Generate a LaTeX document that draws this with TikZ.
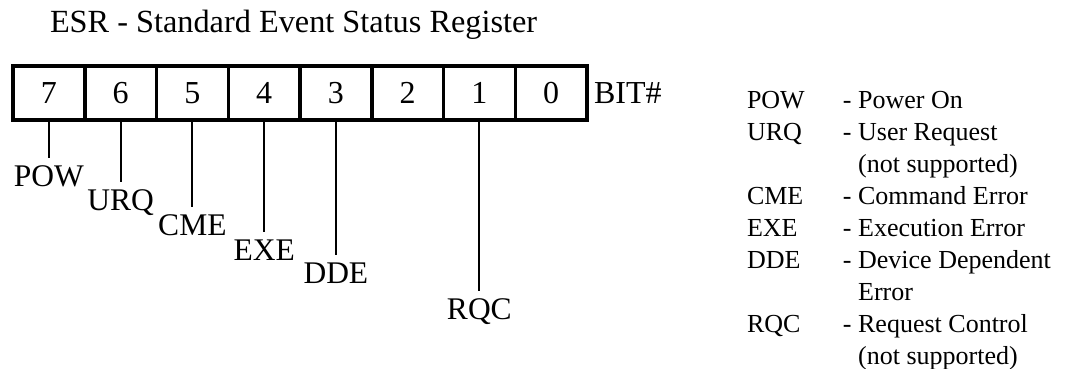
\documentclass[tikz,border=0pt]{standalone}
\usepackage{fontspec}
\setmainfont{Liberation Serif}
\usetikzlibrary{positioning}

\begin{document}
\begin{tikzpicture}[x=1pt,y=-1pt,node distance=0pt,inner sep=0pt,outer sep=0pt,
  bit/.style={draw,line width=3.5pt,minimum width=71.75pt,minimum height=54pt,font=\fontsize{32}{38}\selectfont},
  tag/.style={inner sep=8pt,font=\fontsize{31.5}{38}\selectfont},
  lead/.style={line width=2.2pt}]
\useasboundingbox (0,0) rectangle (1069,369);
\node[anchor=base west,font=\fontsize{32.3}{38}\selectfont] (title) at (50,33) {ESR - Standard Event Status Register};

\node[bit] (b7) at (48.875,93) {7};
\node[bit] (b6) [right=of b7] {6};
\node[bit] (b5) [right=of b6] {5};
\node[bit] (b4) [right=of b5] {4};
\node[bit] (b3) [right=of b4] {3};
\node[bit] (b2) [right=of b3] {2};
\node[bit] (b1) [right=of b2] {1};
\node[bit] (b0) [right=of b1] {0};
\node[font=\fontsize{32}{38}\selectfont] (bitno) [right=7pt of b0] {BIT\#};

\node[tag] (pow) [below=38pt of b7.south] {POW};
\node[tag] (urq) [below=62pt of b6.south] {URQ};
\node[tag] (cme) [below=87pt of b5.south] {CME};
\node[tag] (exe) [below=112pt of b4.south] {EXE};
\node[tag] (dde) [below=135pt of b3.south] {DDE};
\node[tag] (rqc) [below=171pt of b1.south] {RQC};

\path (b7.south) edge[lead] (pow.north);
\path (b6.south) edge[lead] (urq.north);
\path (b5.south) edge[lead] (cme.north);
\path (b4.south) edge[lead] (exe.north);
\path (b3.south) edge[lead] (dde.north);
\path (b1.south) edge[lead] (rqc.north);

% legend
\node[anchor=base west,font=\fontsize{26}{32}\selectfont] (legend) at (747,109) {%
\begin{tabular}[t]{@{}p{96pt}@{}l@{}}
POW & - Power On\\
URQ & - User Request\\
    & \phantom{- }(not supported)\\
CME & - Command Error\\
EXE & - Execution Error\\
DDE & - Device Dependent\\
    & \phantom{- }Error\\
RQC & - Request Control\\
    & \phantom{- }(not supported)
\end{tabular}};
\end{tikzpicture}
\end{document}
